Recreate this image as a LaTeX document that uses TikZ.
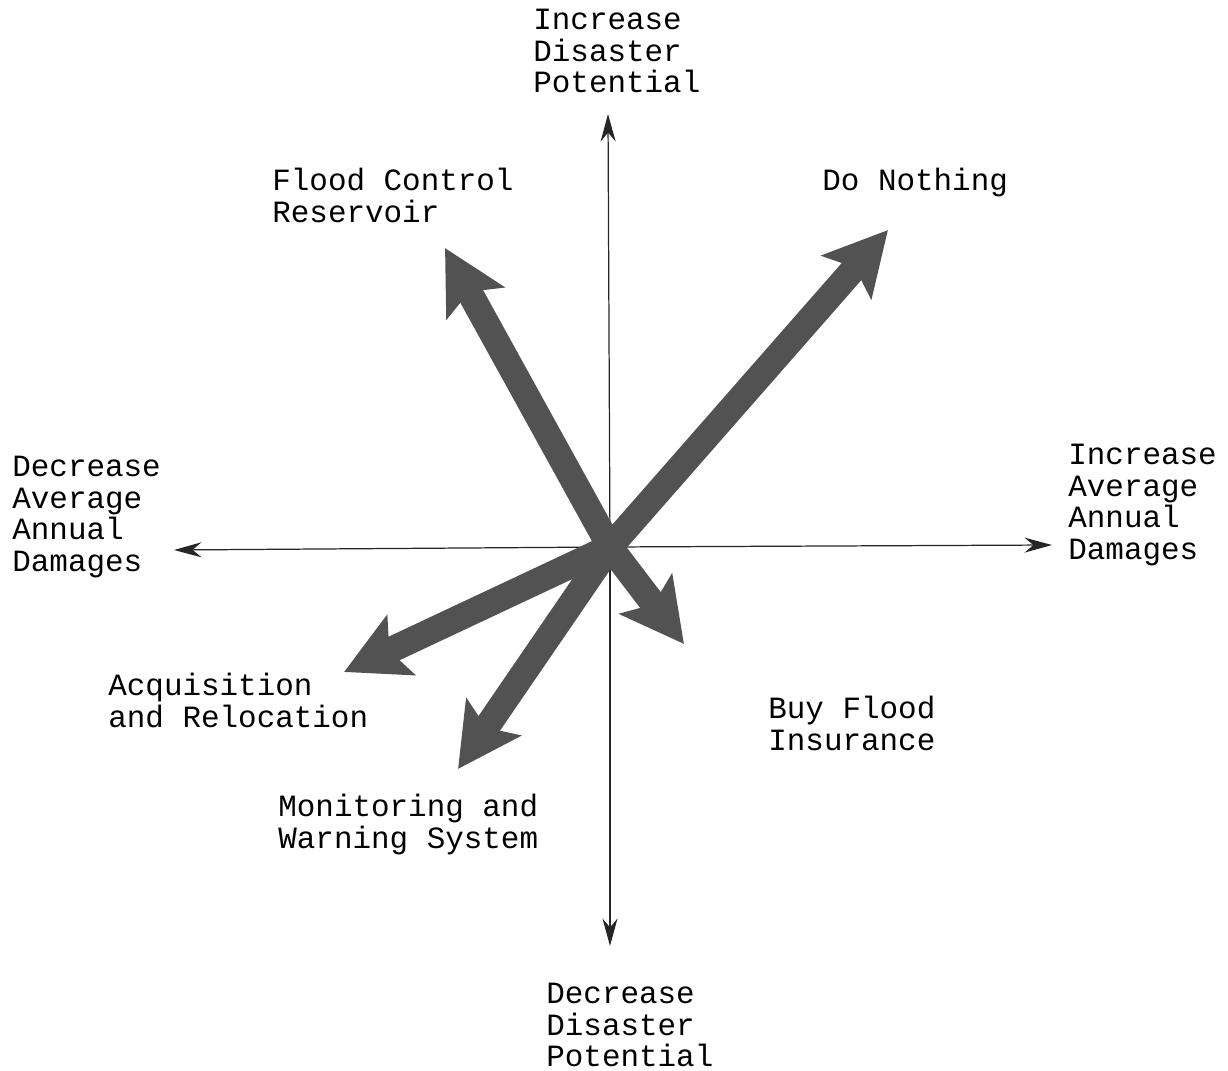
\documentclass[tikz,border=0pt]{standalone}
\usepackage{fontspec}
\setmainfont{Liberation Mono}
\usepackage{xcolor}
\usetikzlibrary{arrows.meta,positioning}

\begin{document}
\begin{tikzpicture}[
    x=0.02cm, y=-0.02cm,
    lbl/.style={anchor=north west,align=left,inner sep=0pt,
        font=\fontsize{17.6}{18}\selectfont},
    axis/.style={-{Stealth[length=0.55cm,width=0.3cm]},line width=0.7pt,draw=black!85},
    bigarrow/.style={-{Stealth[length=1.25cm,width=1.3cm,inset=0.25cm]},
        line width=0.52cm,draw=black!68}
]
\useasboundingbox (0,0) rectangle (1228,1071);
% axes
\coordinate (o) at (610,547);
\coordinate (top) at (608,114);
\coordinate (bot) at (610,946);
\coordinate (lft) at (174,550);
\coordinate (rgt) at (1052,545);
\draw[axis] (o) -- (top);
\draw[axis] (o) -- (bot);
\draw[axis] (o) -- (lft);
\draw[axis] (o) -- (rgt);
% alternatives
\coordinate (fcr) at (445,248);
\coordinate (dn) at (888,230);
\coordinate (bfi) at (684,644);
\coordinate (ar) at (344,672);
\coordinate (mws) at (458,769);
\draw[bigarrow] (o) -- (fcr);
\draw[bigarrow] (o) -- (dn);
\draw[bigarrow] (o) -- (bfi);
\draw[bigarrow] (o) -- (ar);
\draw[bigarrow] (o) -- (mws);
% labels
\node[lbl] (incdp) at (533,9) {Increase\\Disaster\\Potential};
\node[lbl] (decdp) at (546,983) {Decrease\\Disaster\\Potential};
\node[lbl] (decad) at (12,456) {Decrease\\Average\\Annual\\Damages};
\node[lbl] (incad) at (1068,444) {Increase\\Average\\Annual\\Damages};
\node[lbl] (fcrl) at (272,168) {Flood Control\\Reservoir};
\node[lbl] (dnl) at (822,168) {Do Nothing};
\node[lbl] (arl) at (108,673) {Acquisition\\and Relocation};
\node[lbl] (bfil) at (768,696) {Buy Flood\\Insurance};
\node[lbl] (mwsl) at (278,794) {Monitoring and\\Warning System};
\end{tikzpicture}
\end{document}
